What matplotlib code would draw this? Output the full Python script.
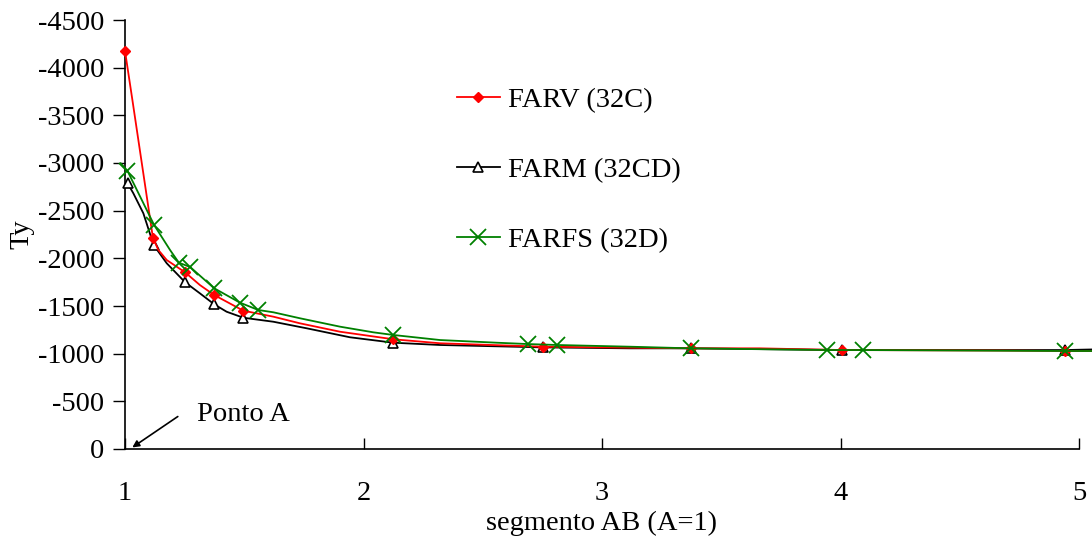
import matplotlib
matplotlib.use("Agg")
import matplotlib.pyplot as plt

plt.rcParams['font.family'] = ['Liberation Serif', 'DejaVu Serif']

# ---- data ----
# line paths
farv_line_x = [1.0, 1.031, 1.117, 1.140, 1.175, 1.252, 1.314, 1.374, 1.496, 1.622, 1.734,
               1.902, 2.125, 2.321, 2.751, 3.117, 3.372, 3.66, 4.005, 4.67, 4.941, 5.054]
farv_line_y = [-4175, -3661, -2216, -2087, -1982, -1853, -1720, -1615, -1451, -1388, -1318,
               -1230, -1151, -1109, -1073, -1063, -1056, -1056, -1038, -1033, -1028, -1028]

farm_line_x = [1.011, 1.035, 1.077, 1.120, 1.175, 1.252, 1.314, 1.374, 1.426, 1.496, 1.622,
               1.762, 1.943, 2.125, 2.321, 2.751, 3.117, 3.372, 4.005, 4.941, 5.054]
farm_line_y = [-2787, -2682, -2472, -2140, -1948, -1749, -1633, -1518, -1440, -1377, -1335,
               -1266, -1172, -1115, -1091, -1066, -1056, -1056, -1038, -1038, -1044]

farfs_line_x = [0.982, 1.010, 1.122, 1.189, 1.226, 1.273, 1.374, 1.482, 1.559, 1.622, 1.734,
                1.902, 2.041, 2.125, 2.321, 2.558, 2.688, 2.813, 3.117, 3.372, 3.942, 4.096,
                4.941, 5.054]
farfs_line_y = [-2997, -2919, -2350, -2087, -1954, -1909, -1686, -1535, -1458, -1434, -1371,
                -1283, -1224, -1196, -1143, -1115, -1101, -1091, -1073, -1056, -1038, -1038,
                -1028, -1028]

# marker points
farv_mark_x = [1.0, 1.117, 1.252, 1.374, 1.496, 2.125, 2.751, 3.372, 4.005, 4.941]
farv_mark_y = [-4175, -2216, -1853, -1615, -1451, -1151, -1073, -1056, -1038, -1028]

farm_mark_x = [1.011, 1.120, 1.252, 1.374, 1.496, 2.125, 2.751, 3.372, 4.005, 4.941]
farm_mark_y = [-2787, -2140, -1749, -1518, -1377, -1115, -1066, -1056, -1038, -1038]

farfs_mark_x = [1.010, 1.122, 1.226, 1.273, 1.374, 1.482, 1.559, 2.125, 2.688, 2.813,
                3.372, 3.942, 4.096, 4.941]
farfs_mark_y = [-2919, -2350, -1954, -1909, -1686, -1535, -1458, -1196, -1101, -1091,
                -1056, -1038, -1038, -1028]

labels = ["FARV (32C)", "FARM (32CD)", "FARFS (32D)"]
x_ticks = [1, 2, 3, 4, 5]
y_ticks = [0, -500, -1000, -1500, -2000, -2500, -3000, -3500, -4000, -4500]

FS = 20.5

fig = plt.figure(figsize=(10.92, 5.39), dpi=100)
ax = fig.add_axes([125/1092, 90/539, (1079-125)/1092, (449-20)/539])

# black first, then red, then green on top
ax.plot(farm_line_x, farm_line_y, color='black', lw=1.3, clip_on=False, zorder=2)
ax.plot(farm_mark_x, farm_mark_y, ls='none', marker='^', ms=7, mfc='white', mec='black',
        mew=1.2, clip_on=False, zorder=3)
ax.plot(farv_line_x, farv_line_y, color='red', lw=1.3, clip_on=False, zorder=4)
ax.plot(farv_mark_x, farv_mark_y, ls='none', marker='D', ms=5.5, mfc='red', mec='red',
        clip_on=False, zorder=5)
ax.plot(farfs_line_x, farfs_line_y, color='green', lw=1.3, clip_on=False, zorder=6)
ax.plot(farfs_mark_x, farfs_mark_y, ls='none', marker='x', ms=12, mec='green', mew=1.3,
        clip_on=False, zorder=7)

# legend handles
h1, = ax.plot([], [], color='red', lw=1.3, marker='D', ms=5.5, mfc='red', mec='red')
h2, = ax.plot([], [], color='black', lw=1.3, marker='^', ms=7, mfc='white', mec='black', mew=1.2)
h3, = ax.plot([], [], color='green', lw=1.3, marker='x', ms=12, mec='green', mew=1.3)
leg = ax.legend([h1, h2, h3], labels, loc='upper left',
                bbox_to_anchor=((457-125)/954, (449-87)/429),
                frameon=False, fontsize=FS, handlelength=1.5, handletextpad=0.3,
                labelspacing=1.55, borderaxespad=0, borderpad=0)

ax.set_xlim(1, 5)
ax.set_ylim(0, -4500)
ax.set_xticks(x_ticks)
ax.set_yticks(y_ticks)
ax.set_xticklabels([str(v) for v in x_ticks], fontsize=FS)
ax.set_yticklabels([str(v) for v in y_ticks], fontsize=FS)
ax.tick_params(axis='y', direction='out', length=9, width=1.0, pad=6)
ax.tick_params(axis='x', direction='in', length=8, width=1.0, pad=23)
ax.spines['top'].set_visible(False)
ax.spines['right'].set_visible(False)
ax.spines['left'].set_linewidth(1.2)
ax.spines['bottom'].set_linewidth(1.2)

ax.set_ylabel("Ty", fontsize=FS, va='center')
ax.yaxis.set_label_coords((22-125)/954, 0.5)
ax.set_xlabel("segmento AB (A=1)", fontsize=FS, va='center')
ax.xaxis.set_label_coords(0.5, (449-523)/429)

# Ponto A annotation
ax.annotate("", xy=(1.021, 0), xytext=(1.231, -357),
            arrowprops=dict(arrowstyle='-|>', color='black', lw=1.2, mutation_scale=10),
            annotation_clip=False)
ax.text(1.302, -294, "Ponto A", fontsize=FS, ha='left', va='baseline')

fig.savefig("out.png", dpi=100)
